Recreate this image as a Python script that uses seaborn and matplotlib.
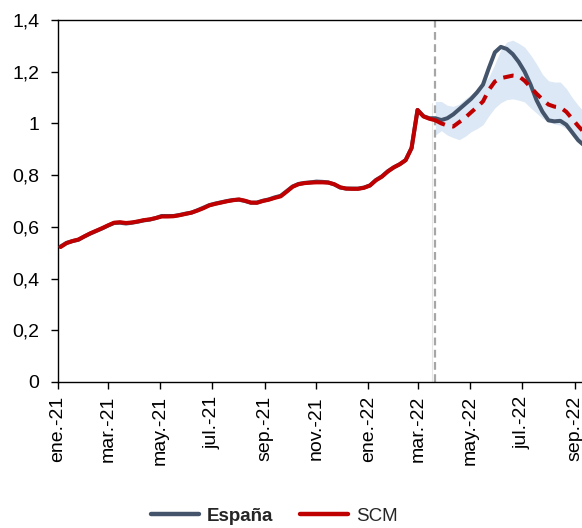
import matplotlib
matplotlib.use("Agg")
import matplotlib.pyplot as plt
import numpy as np
import pandas as pd
import seaborn as sns
from matplotlib.lines import Line2D

# Weekly observations (Mondays) starting 4 Jan 2021
start_date = "2021-01-04"
n_weeks = 89

# España: observed series, weeks 0..88
espana = [
    0.524, 0.538, 0.545, 0.550, 0.563, 0.574, 0.584, 0.594, 0.605, 0.615,
    0.616, 0.613, 0.616, 0.620, 0.625, 0.628, 0.634, 0.642, 0.642, 0.642,
    0.646, 0.651, 0.655, 0.664, 0.674, 0.684, 0.690, 0.695, 0.700, 0.704,
    0.705, 0.700, 0.693, 0.694, 0.701, 0.706, 0.714, 0.720, 0.738, 0.756,
    0.766, 0.770, 0.772, 0.775, 0.774, 0.772, 0.764, 0.752, 0.748, 0.748,
    0.748, 0.752, 0.760, 0.781, 0.795, 0.815, 0.830, 0.842, 0.858, 0.905,
    1.052, 1.028, 1.020, 1.020, 1.013, 1.020, 1.035, 1.055, 1.075, 1.095,
    1.120, 1.150, 1.215, 1.275, 1.296, 1.288, 1.268, 1.238, 1.200, 1.150,
    1.090, 1.045, 1.012, 1.008, 1.010, 0.995, 0.965, 0.935, 0.915,
]

# SCM: fitted up to the intervention week, counterfactual afterwards
scm_fit = [
    0.522, 0.537, 0.545, 0.551, 0.563, 0.575, 0.585, 0.595, 0.606, 0.616,
    0.618, 0.615, 0.617, 0.621, 0.626, 0.629, 0.634, 0.640, 0.640, 0.641,
    0.645, 0.650, 0.655, 0.663, 0.672, 0.683, 0.689, 0.694, 0.699, 0.703,
    0.706, 0.701, 0.694, 0.693, 0.700, 0.705, 0.712, 0.718, 0.736, 0.755,
    0.765, 0.769, 0.771, 0.772, 0.772, 0.771, 0.765, 0.753, 0.748, 0.747,
    0.747, 0.751, 0.760, 0.780, 0.794, 0.814, 0.830, 0.842, 0.858, 0.905,
    1.052, 1.027, 1.018, 1.012,
]
scm_post = [
    1.012, 1.000, 0.992, 0.988, 1.005, 1.022, 1.043, 1.063, 1.085, 1.130,
    1.162, 1.175, 1.180, 1.185, 1.183, 1.165, 1.140, 1.115, 1.093, 1.073,
    1.065, 1.062, 1.045, 1.018, 0.990, 0.965,
]

# Confidence band of the SCM counterfactual (weeks 63..88)
band_upper = [
    1.085, 1.085, 1.070, 1.066, 1.075, 1.095, 1.112, 1.130, 1.150, 1.180,
    1.230, 1.285, 1.315, 1.322, 1.310, 1.295, 1.265, 1.230, 1.190, 1.165,
    1.160, 1.160, 1.135, 1.100, 1.070, 1.045,
]
band_lower = [
    0.955, 0.972, 0.955, 0.945, 0.937, 0.950, 0.968, 0.980, 0.995, 1.030,
    1.060, 1.080, 1.092, 1.095, 1.090, 1.083, 1.060, 1.040, 1.020, 1.005,
    0.998, 0.993, 0.980, 0.960, 0.938, 0.920,
]

intervention = "2022-03-20"
tick_dates = ["2021-01-01", "2021-03-01", "2021-05-01", "2021-07-01",
              "2021-09-01", "2021-11-01", "2022-01-01", "2022-03-01",
              "2022-05-01", "2022-07-01", "2022-09-01"]
tick_labels = ["ene.-21", "mar.-21", "may.-21", "jul.-21", "sep.-21",
               "nov.-21", "ene.-22", "mar.-22", "may.-22", "jul.-22",
               "sep.-22"]
y_ticks = [0, 0.2, 0.4, 0.6, 0.8, 1.0, 1.2, 1.4]
y_labels = ["0", "0,2", "0,4", "0,6", "0,8", "1", "1,2", "1,4"]

dates = pd.date_range(start_date, periods=n_weeks, freq="7D")
df_esp = pd.DataFrame({"fecha": dates, "valor": espana})
df_fit = pd.DataFrame({"fecha": dates[:len(scm_fit)], "valor": scm_fit})
post_dates = dates[len(scm_fit) - 1:]
df_post = pd.DataFrame({"fecha": post_dates, "valor": scm_post})
df_band = pd.DataFrame({"fecha": post_dates, "lo": band_lower, "hi": band_upper})

sns.set_theme(style="white")
plt.rcParams["font.family"] = ["Liberation Sans", "DejaVu Sans"]

C_ESP = "#44546A"
C_SCM = "#C00000"
C_BAND = "#DCE8F5"
FS = 14
FS_LEG = 13.5

fig = plt.figure(figsize=(5.82, 5.28), dpi=100)
ax = fig.add_axes([58 / 582, 1 - 382 / 528, 1 - 58 / 582, (382 - 20) / 528])

ax.fill_between(df_band["fecha"], df_band["lo"], df_band["hi"],
                color=C_BAND, linewidth=0, zorder=1)
ax.axvline(pd.Timestamp("2022-03-17"), color="#E6E6E6", lw=0.8,
           ymax=1.08 / 1.4, zorder=1)
ax.axvline(pd.Timestamp(intervention), color="#A6A6A6", lw=1.6,
           linestyle=(0, (3.5, 2)), zorder=2)

sns.lineplot(data=df_esp, x="fecha", y="valor", ax=ax, color=C_ESP,
             lw=2.9, zorder=3, solid_capstyle="round")
sns.lineplot(data=df_fit, x="fecha", y="valor", ax=ax, color=C_SCM,
             lw=2.9, zorder=4, solid_capstyle="round")
sns.lineplot(data=df_post, x="fecha", y="valor", ax=ax, color=C_SCM,
             lw=2.9, zorder=4, linestyle=(0, (2.6, 1.9)))

ax.set_xlim(pd.Timestamp("2021-01-01"), pd.Timestamp("2022-09-09 12:00"))
ax.set_ylim(0, 1.4)
ax.set_xticks([pd.Timestamp(d) for d in tick_dates])
ax.set_xticklabels(tick_labels, rotation=90, fontsize=FS)
ax.set_yticks(y_ticks)
ax.set_yticklabels(y_labels, fontsize=FS)
ax.set_xlabel("")
ax.set_ylabel("")

for side in ["left", "bottom", "top"]:
    ax.spines[side].set_visible(True)
    ax.spines[side].set_color("black")
    ax.spines[side].set_linewidth(1.0)
ax.spines["right"].set_visible(False)
ax.tick_params(axis="both", which="major", direction="out", length=5,
               width=1.0, color="black", labelcolor="black",
               bottom=True, left=True)
ax.tick_params(axis="y", pad=8.5)
ax.tick_params(axis="x", pad=5)
ax.grid(False)

handles = [Line2D([0], [0], color=C_ESP, lw=3.2),
           Line2D([0], [0], color=C_SCM, lw=3.2)]
leg = fig.legend(handles, ["España", "SCM"], loc="center",
                 bbox_to_anchor=(274 / 582, 1 - 516 / 528), ncol=2,
                 frameon=False, fontsize=FS_LEG, handlelength=2.6,
                 columnspacing=1.4, handletextpad=0.4)
leg.get_texts()[0].set_fontweight("bold")

fig.savefig("out.png", dpi=100)
